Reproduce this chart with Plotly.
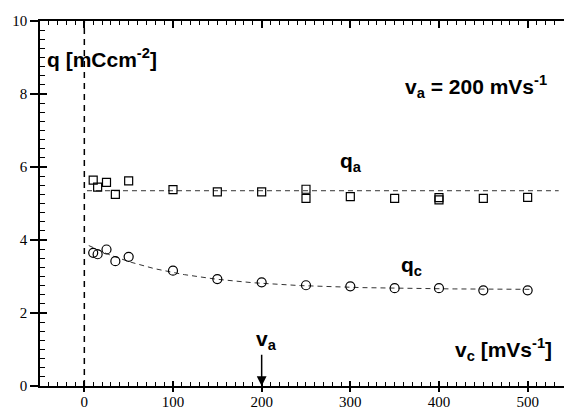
import numpy as np
import plotly.graph_objects as go

# anodic charge q_a vs cathodic sweep rate v_c (squares)
v_qa = [10, 15, 25, 35, 50, 100, 150, 200, 250, 250, 300, 350, 400, 400, 450, 500]
q_a = [5.64, 5.45, 5.58, 5.25, 5.62, 5.38, 5.32, 5.32, 5.39, 5.14, 5.19, 5.14, 5.16, 5.10, 5.14, 5.17]

# cathodic charge q_c vs cathodic sweep rate v_c (circles)
v_qc = [10, 15, 25, 35, 50, 100, 150, 200, 250, 300, 350, 400, 450, 500]
q_c = [3.65, 3.61, 3.74, 3.42, 3.54, 3.16, 2.93, 2.84, 2.76, 2.73, 2.68, 2.68, 2.62, 2.62]

# mean level of q_a and exponential fit of q_c
qa_mean = 5.35
qa_line_v = [3, 535]
qc_inf, qc_amp, qc_tau = 2.64, 1.27, 100.0
qc_fit_v = np.linspace(5, 505, 200)
qc_fit = qc_inf + qc_amp * np.exp(-qc_fit_v / qc_tau)

v_anodic = 200  # anodic sweep rate marker

X_RANGE = [-50, 541]
Y_RANGE = [0, 10]

SERIF = "'Liberation Serif', 'Times New Roman', Times, serif"
SANS = "'Liberation Sans', Arial, sans-serif"

fig = go.Figure()

fig.add_trace(go.Scatter(
    x=[qa_line_v[0], qa_line_v[1]], y=[qa_mean, qa_mean], mode="lines",
    line=dict(color="#333", width=1, dash="5px,4px"), showlegend=False, hoverinfo="skip"))
fig.add_trace(go.Scatter(
    x=qc_fit_v, y=qc_fit, mode="lines",
    line=dict(color="#333", width=1, dash="5px,4px"), showlegend=False, hoverinfo="skip"))
fig.add_trace(go.Scatter(
    x=v_qa, y=q_a, mode="markers",
    marker=dict(symbol="square-open", size=8, color="black", line=dict(width=1.2)),
    showlegend=False))
fig.add_trace(go.Scatter(
    x=v_qc, y=q_c, mode="markers",
    marker=dict(symbol="circle-open", size=9, color="black", line=dict(width=1.2)),
    showlegend=False))

# helper traces so the overlay axes (inner/outer ticks, top axis) get drawn
for xa in ("x2", "x3", "x4"):
    fig.add_trace(go.Scatter(x=[], y=[], xaxis=xa, yaxis="y2", showlegend=False, hoverinfo="skip"))

# dashed reference line at v_c = 0
fig.add_shape(type="line", xref="x", yref="y", x0=0, x1=0, y0=Y_RANGE[0], y1=Y_RANGE[1],
              line=dict(color="black", width=1.5, dash="6px,5px"))

tick_font = dict(family=SERIF, size=15, color="black")
minor_x = dict(dtick=10, tick0=0, ticks="inside", ticklen=4, tickwidth=1, tickcolor="black", showgrid=False)
minor_y = dict(dtick=0.25, tick0=0, ticks="inside", ticklen=5, tickwidth=1, tickcolor="black", showgrid=False)

plain = dict(showgrid=False, zeroline=False)

fig.update_layout(
    template="none",
    width=564, height=410,
    margin=dict(l=40, r=0, t=21, b=24),
    paper_bgcolor="white", plot_bgcolor="white",
    font=dict(family=SERIF, size=15, color="black"),
    # bottom axis: line and tick labels
    xaxis=dict(range=X_RANGE, tick0=0, dtick=100, ticks="outside", ticklen=1, tickwidth=1.5,
               tickcolor="black", showline=True, linecolor="black", linewidth=1.5,
               tickfont=tick_font, anchor="y", **plain),
    # bottom axis: inner major + minor ticks
    xaxis2=dict(range=X_RANGE, overlaying="x", anchor="y", side="bottom", tick0=0, dtick=100,
                ticks="inside", ticklen=5, tickwidth=1.5, tickcolor="black", minor=minor_x,
                showticklabels=False, showline=False, **plain),
    # top axis
    xaxis3=dict(range=X_RANGE, overlaying="x", anchor="y", side="top", tick0=0, dtick=100,
                ticks="inside", ticklen=7, tickwidth=1.5, tickcolor="black", minor=minor_x,
                showticklabels=False, showline=True, linecolor="black", linewidth=1.5, **plain),
    # bottom axis: outer part of the major ticks
    xaxis4=dict(range=X_RANGE, overlaying="x", anchor="y", side="bottom", tick0=0, dtick=100,
                ticks="outside", ticklen=5, tickwidth=1.5, tickcolor="black",
                showticklabels=False, showline=False, **plain),
    yaxis=dict(range=Y_RANGE, tick0=0, dtick=2, ticks="outside", ticklen=8, tickwidth=1.5,
               tickcolor="black", showline=True, linecolor="black", linewidth=1.5,
               tickfont=tick_font, anchor="x", **plain),
    yaxis2=dict(range=Y_RANGE, overlaying="y", anchor="x", side="left", tick0=0, dtick=2,
                ticks="inside", ticklen=7, tickwidth=1.5, tickcolor="black", minor=minor_y,
                showticklabels=False, showline=False, **plain),
)

label_font = dict(family=SANS, size=21, color="black")

def label(text, x, y, xanchor="left"):
    fig.add_annotation(text="<b>" + text + "</b>", x=x, y=y, xref="x", yref="y",
                       xanchor=xanchor, yanchor="middle", showarrow=False, font=label_font)

label("q [mCcm<sup>-2</sup>]", -44, 9.0)
label("v<sub>a</sub> = 200 mVs<sup>-1</sup>", 524, 8.2, xanchor="right")
label("q<sub>a</sub>", 286, 6.15)
label("q<sub>c</sub>", 355, 3.3)
label("v<sub>c</sub> [mVs<sup>-1</sup>]", 530, 1.0, xanchor="right")

# arrow marking the anodic sweep rate on the v_c axis
fig.add_annotation(x=v_anodic, y=0, ax=v_anodic, ay=0.9, xref="x", yref="y", axref="x", ayref="y",
                   showarrow=True, arrowhead=2, arrowsize=1.3, arrowwidth=1.5, arrowcolor="black",
                   text="")
fig.add_annotation(text="<b>v<sub>a</sub></b>", x=v_anodic, y=1.25, xref="x", yref="y",
                   xanchor="center", yanchor="middle", xshift=5, showarrow=False, font=label_font)

fig.write_html("out.html")
